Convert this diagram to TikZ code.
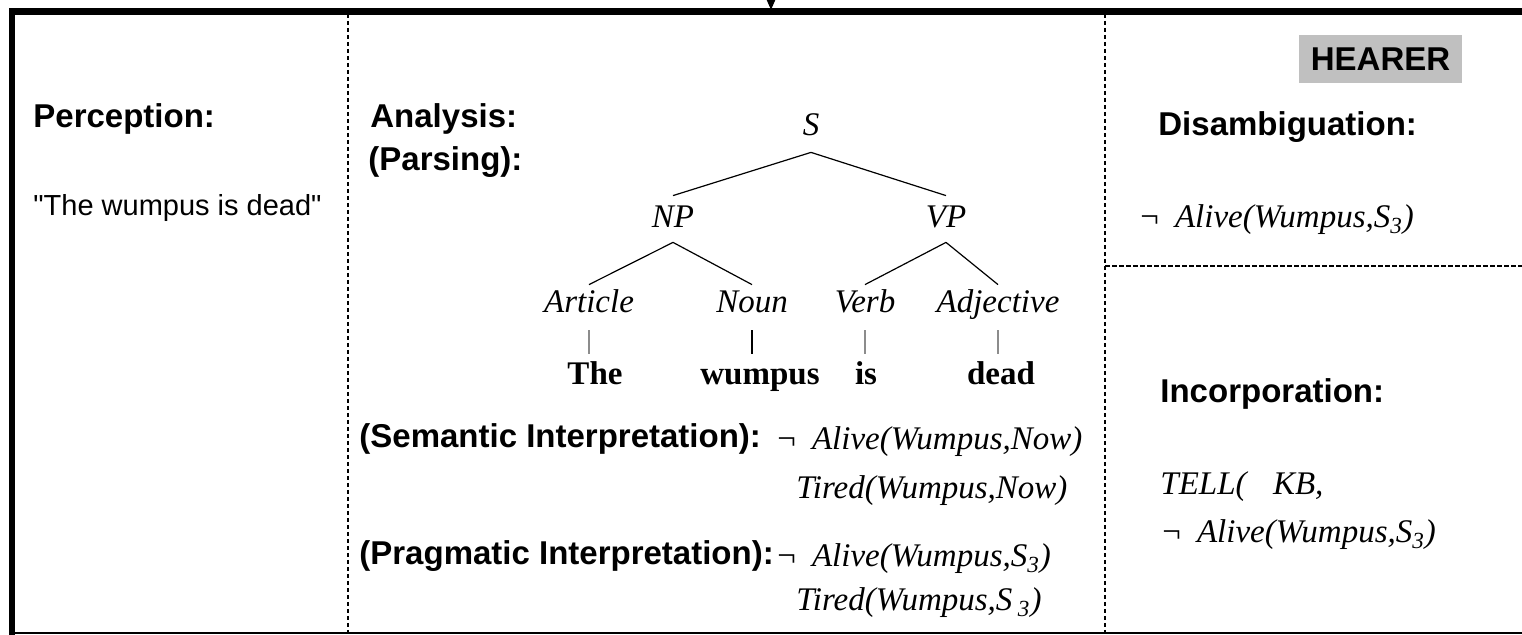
\documentclass[tikz,border=0pt]{standalone}
\usepackage{fontspec}
\setmainfont{Liberation Serif}
\setsansfont{Liberation Sans}
\usetikzlibrary{arrows.meta}
\definecolor{hgray}{HTML}{C0C0C0}
\definecolor{tickgray}{HTML}{8C8C8C}
\newcommand\negmark{{\upshape ¬}\hspace{8pt}}

\begin{document}
\begin{tikzpicture}[
  x=0.5pt, y=-0.5pt,
  head/.style={
    anchor=base west, inner sep=0pt,
    font=\fontsize{16.5}{19}\selectfont\sffamily\bfseries
  },
  plain/.style={
    anchor=base west, inner sep=0pt,
    font=\fontsize{14.5}{17}\selectfont\sffamily
  },
  formula/.style={
    anchor=base west, inner sep=0pt,
    font=\fontsize{16.5}{19}\selectfont\itshape
  },
  cat/.style={
    inner sep=0pt, text height=11pt, text depth=0pt,
    font=\fontsize{16.5}{19}\selectfont\itshape
  },
  word/.style={
    inner sep=0pt, text height=11pt, text depth=0pt,
    font=\fontsize{16.5}{19}\selectfont\bfseries
  },
  divider/.style={line width=1pt, dash pattern=on 2.25pt off 1.25pt},
  branch/.style={line width=0.6pt},
  tick/.style={line width=0.6pt, tickgray},
  arr/.style={-{Triangle[length=5pt,width=4pt]}, line width=1pt},
]
  \useasboundingbox (0,0) rectangle (1522,635);

  % Frame and dividers
  \draw[line width=3.2pt] (12,636) -- (12,11.5) -- (1530,11.5);
  \draw[line width=1pt] (12,633.5) -- (1530,633.5);
  \draw[divider] (348,14) -- (348,633);
  \draw[divider] (1105,14) -- (1105,633);
  \draw[divider] (1105,266) -- (1522,266);

  % Incoming arrow
  \coordinate (cue) at (771,-30);
  \coordinate (cuetip) at (771,10);
  \draw[arr] (cue) -- (cuetip);

  % Perception
  \node[head] (perc) at (33,128) {Perception:};
  \node[plain] (utter) at (33,216) {\textquotedbl The wumpus is dead\textquotedbl};

  % Analysis
  \node[head] (anal) at (370,128) {Analysis:};
  \node[head] (pars) at (368,171) {(Parsing):};

  % Parse tree
  \node[cat] (s) at (811,125) {S};
  \node[cat] (np) at (673,217) {NP};
  \node[cat] (vp) at (946,217) {VP};
  \node[cat] (art) at (589,302) {Article};
  \node[cat] (noun) at (752,302) {Noun};
  \node[cat] (verb) at (865,302) {Verb};
  \node[cat] (adj) at (998,302) {Adjective};
  \node[word] (the) at (595,374) {The};
  \node[word] (wumpus) at (760,374) {wumpus};
  \node[word] (is) at (866,374) {is};
  \node[word] (dead) at (1001,374) {dead};

  \draw[branch] ([yshift=-8pt]s.south) -- ([yshift=5pt]np.north);
  \draw[branch] ([yshift=-8pt]s.south) -- ([yshift=5pt]vp.north);
  \draw[branch] ([yshift=-7pt]np.south) -- ([yshift=3pt]art.north);
  \draw[branch] ([yshift=-7pt]np.south) -- ([yshift=3pt]noun.north);
  \draw[branch] ([yshift=-7pt]vp.south) -- ([yshift=3pt]verb.north);
  \draw[branch] ([yshift=-7pt]vp.south) -- ([yshift=3pt]adj.north);

  \draw[tick] ([yshift=-8.5pt]art.south) -- ([yshift=4.5pt]art.south |- the.north);
  \draw[tick, black] ([yshift=-8.5pt]noun.south) -- ([yshift=4.5pt]noun.south |- wumpus.north);
  \draw[tick] ([yshift=-8.5pt]verb.south) -- ([yshift=4.5pt]verb.south |- is.north);
  \draw[tick] ([yshift=-8.5pt]adj.south) -- ([yshift=4.5pt]adj.south |- dead.north);

  % Interpretations
  \node[head] (sem) at (359,448) {(Semantic Interpretation):};
  \node[formula] (semone) at (777,450) {\negmark Alive(Wumpus,Now)};
  \node[formula] (semtwo) at (796,499) {Tired(Wumpus,Now)};
  \node[head] (prag) at (359,565) {(Pragmatic Interpretation):};
  \node[formula] (pragone) at (777,567) {\negmark Alive(Wumpus,S\textsubscript{3})};
  \node[formula] (pragtwo) at (796,611) {Tired(Wumpus,S\,\textsubscript{3})};

  % Hearer side
  \node[fill=hgray, minimum width=81.5pt, minimum height=24pt, inner sep=0pt,
        font=\fontsize{16.5}{19}\selectfont\sffamily\bfseries] (hearer) at (1380.5,59) {HEARER};
  \node[head] (disamb) at (1158,136) {Disambiguation:};
  \node[formula] (disone) at (1140,228) {\negmark Alive(Wumpus,S\textsubscript{3})};
  \node[head] (incorp) at (1160,403) {Incorporation:};
  \node[formula] (tell) at (1160,495) {TELL(\hspace{0.8em}KB,};
  \node[formula] (tellarg) at (1162,543) {\negmark Alive(Wumpus,S\textsubscript{3})};
\end{tikzpicture}
\end{document}
